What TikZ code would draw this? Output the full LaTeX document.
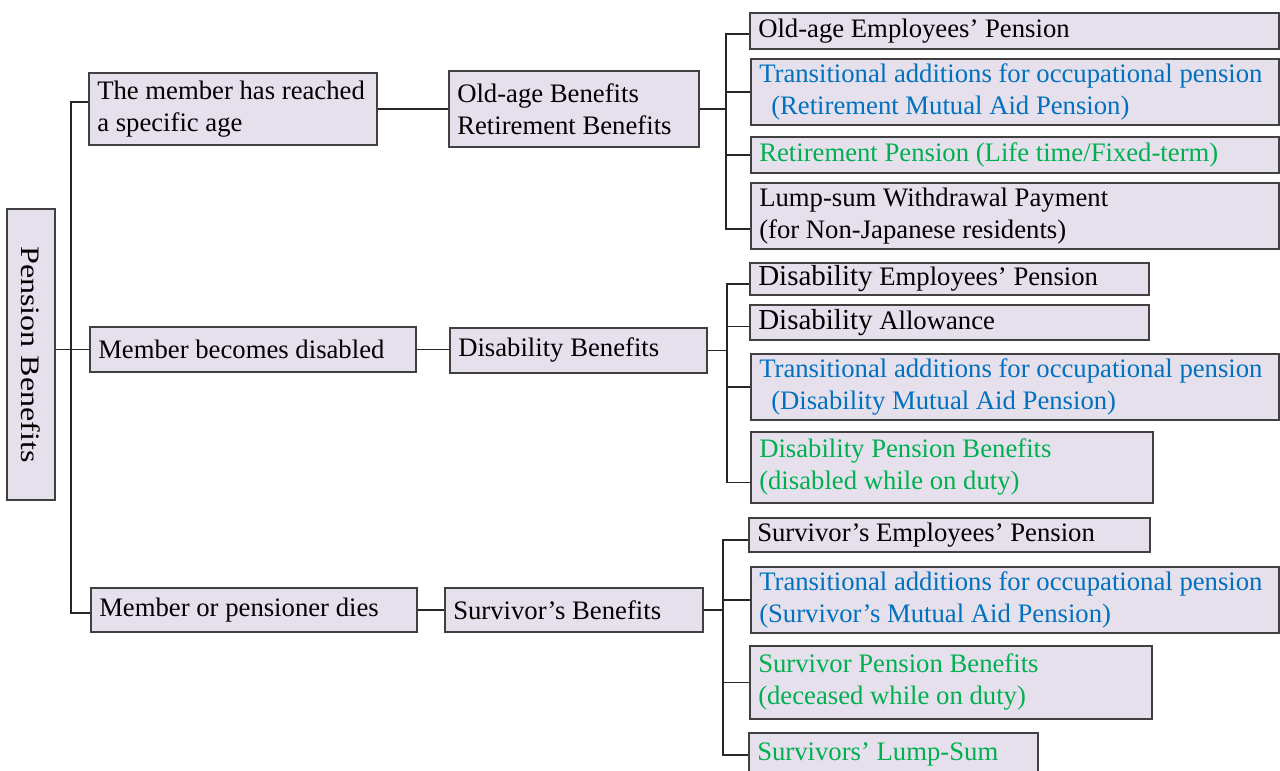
\documentclass[tikz,border=0pt]{standalone}
\usepackage{fontspec}
\setmainfont{Liberation Serif}
\usetikzlibrary{calc}
\definecolor{boxfill}{HTML}{E6E0EC}
\definecolor{boxdraw}{HTML}{404040}
\definecolor{txtblue}{HTML}{0070C0}
\definecolor{txtgreen}{HTML}{00B050}
\newcommand{\bigD}{{\fontsize{29}{32}\selectfont Disability}}
\tikzset{
  box/.style={draw=boxdraw, fill=boxfill, line width=1.5pt, rectangle,
    anchor=north west, inner xsep=8.5pt, inner ysep=0pt, align=flush left,
    font=\fontsize{26.7}{32}\selectfont},
  conn/.style={draw=black!85, line width=1.5pt},
}
\newcommand{\bx}[7]{% name, x0, y0, x1, y1, color, text
  \pgfmathsetmacro{\bw}{#4-#2}\pgfmathsetmacro{\bh}{#5-#3}\pgfmathsetmacro{\tw}{#4-#2-17}
  \node[box, text=#6, minimum width=\bw pt, minimum height=\bh pt, text width=\tw pt] (#1) at (#2,#3) {#7};}
\begin{document}
\begin{tikzpicture}[x=1pt, y=-1pt]
\clip (0,0) rectangle (1280,771);
\fill[white] (0,0) rectangle (1280,771);
% root
\node[draw=boxdraw, fill=boxfill, line width=1.5pt, rotate=-90, minimum width=291pt, minimum height=48pt, inner sep=0pt,
  font=\fontsize{26.7}{32}\selectfont] (root) at (31,354.5) {\scalebox{1.2}[1]{Pension Benefits}};
% level 1
\bx{A1}{88}{72}{376}{144}{black}{The member has reached\\a specific age}
\bx{A2}{89}{326}{415}{371}{black}{Member becomes disabled}
\bx{A3}{90}{587}{416}{631}{black}{Member or pensioner dies}
% level 2
\bx{B1}{448}{70}{698}{146}{black}{Old-age Benefits\\Retirement Benefits}
\bx{B2}{449}{327}{706}{372}{black}{Disability Benefits}
\bx{B3}{444}{587}{702}{631}{black}{Survivor’s Benefits}
% level 3: old-age
\bx{C1}{749}{12}{1278}{48}{black}{Old-age Employees’ Pension}
\bx{C2}{750}{58}{1278}{124}{txtblue}{Transitional additions for occupational pension\\\hspace*{12pt}(Retirement Mutual Aid Pension)}
\bx{C3}{750}{136}{1278}{172}{txtgreen}{Retirement Pension (Life time/Fixed-term)}
\bx{C4}{750}{182}{1278}{248}{black}{Lump-sum Withdrawal Payment\\(for Non-Japanese residents)}
% disability
\bx{D1}{749}{262}{1148}{294}{black}{\bigD{} Employees’ Pension}
\bx{D2}{749}{304}{1148}{339}{black}{\bigD{} Allowance}
\bx{D3}{750}{353}{1278}{419}{txtblue}{Transitional additions for occupational pension\\\hspace*{12pt}(Disability Mutual Aid Pension)}
\bx{D4}{750}{431}{1152}{502}{txtgreen}{Disability Pension Benefits\\(disabled while on duty)}
% survivor
\bx{E1}{748}{517}{1149}{551}{black}{Survivor’s Employees’ Pension}
\bx{E2}{750}{566}{1278}{632}{txtblue}{Transitional additions for occupational pension\\(Survivor’s Mutual Aid Pension)}
\bx{E3}{749}{645}{1151}{718}{txtgreen}{Survivor Pension Benefits\\(deceased while on duty)}
\bx{E4}{748}{732}{1037}{776}{txtgreen}{Survivors’ Lump-Sum}
% trunk coordinates
\coordinate (T) at (71,0);
\coordinate (U1) at (726,0);
\coordinate (U2) at (727,0);
\coordinate (U3) at (723,0);
% root to level 1
\draw[conn] (root.north |- A2.west) -- (A2.west);
\draw[conn] ([yshift=7pt]A1.west) -- ([yshift=7pt]A1.west -| T) -- ([yshift=-3pt]A3.west -| T) -- ([yshift=-3pt]A3.west);
% level 1 to level 2
\draw[conn] (A1.east) -- (A1.east -| B1.west);
\draw[conn] (A2.east) -- (A2.east -| B2.west);
\draw[conn] (A3.east) -- (A3.east -| B3.west);
% old-age bracket
\draw[conn] (B1.east) -- (B1.east -| U1);
\draw[conn] ([yshift=-3pt]C1.west) -- ([yshift=-3pt]C1.west -| U1) -- ([yshift=-13pt]C4.west -| U1) -- ([yshift=-13pt]C4.west);
\draw[conn] (C2.west) -- (C2.west -| U1);
\draw[conn] (C3.west) -- (C3.west -| U1);
% disability bracket
\draw[conn] (B2.east) -- (B2.east -| U2);
\draw[conn] ([yshift=-5pt]D1.west) -- ([yshift=-5pt]D1.west -| U2) -- ([yshift=-15pt]D4.west -| U2) -- ([yshift=-15pt]D4.west);
\draw[conn] ([yshift=-4pt]D2.west) -- ([yshift=-4pt]D2.west -| U2);
\draw[conn] (D3.west) -- (D3.west -| U2);
% survivor bracket
\draw[conn] (B3.east) -- (B3.east -| U3);
\draw[conn] ([yshift=-5pt]E1.west) -- ([yshift=-5pt]E1.west -| U3) -- (E4.west -| U3) -- (E4.west);
\draw[conn] (E2.west) -- (E2.west -| U3);
\draw[conn] (E3.west) -- (E3.west -| U3);
\end{tikzpicture}
\end{document}
